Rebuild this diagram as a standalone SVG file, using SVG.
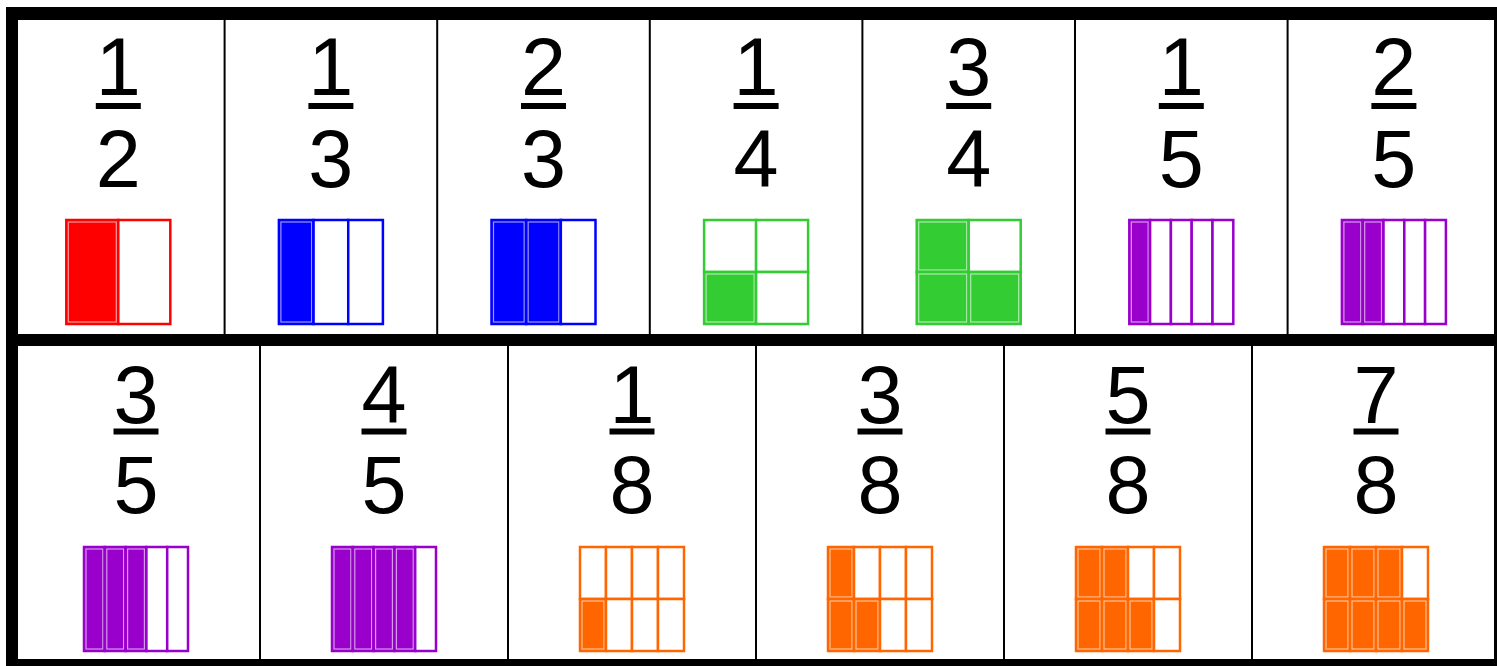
<svg xmlns="http://www.w3.org/2000/svg" width="1497" height="666" viewBox="0 0 1497 666">
<style>
.bg{fill:#fff}
.frame{fill:#000}
.div{stroke:#000;stroke-width:2}
.t{font-family:"Liberation Sans",Arial,Helvetica,sans-serif;font-size:81px;text-anchor:middle;fill:#000}
.ul{fill:#000}
.e{fill:#fff;stroke-width:2.5}
.f{stroke-width:2.5}
.hl{fill:none;stroke:#fff;stroke-opacity:0.6;stroke-width:1.2}
.red{stroke:#ff0000}.red.f{fill:#ff0000}
.blue{stroke:#0000ff}.blue.f{fill:#0000ff}
.green{stroke:#33cc33}.green.f{fill:#33cc33}
.purple{stroke:#9900cc}.purple.f{fill:#9900cc}
.orange{stroke:#ff6600}.orange.f{fill:#ff6600}
</style>
<rect class="bg" x="0" y="0" width="1497" height="666"/>
<g id="grid-lines">
<line class="div" x1="224.6" y1="20" x2="224.6" y2="334"/>
<line class="div" x1="437.2" y1="20" x2="437.2" y2="334"/>
<line class="div" x1="649.8" y1="20" x2="649.8" y2="334"/>
<line class="div" x1="862.4" y1="20" x2="862.4" y2="334"/>
<line class="div" x1="1075" y1="20" x2="1075" y2="334"/>
<line class="div" x1="1287.6" y1="20" x2="1287.6" y2="334"/>
<line class="div" x1="260" y1="346" x2="260" y2="659"/>
<line class="div" x1="508" y1="346" x2="508" y2="659"/>
<line class="div" x1="756" y1="346" x2="756" y2="659"/>
<line class="div" x1="1004" y1="346" x2="1004" y2="659"/>
<line class="div" x1="1252" y1="346" x2="1252" y2="659"/>
<rect class="frame" x="6" y="7" width="1491" height="13"/>
<rect class="frame" x="6" y="7" width="12" height="659"/>
<rect class="frame" x="6" y="334" width="1491" height="12"/>
<rect class="frame" x="6" y="659" width="1491" height="7"/>
<rect class="frame" x="1494" y="7" width="3" height="659"/>
</g>

<g id="f-1-2">
<text class="t" x="118.3" y="95">1</text><rect class="ul" x="95.8" y="103" width="45" height="6"/>
<text class="t" x="118.3" y="187">2</text>
<rect class="red f" x="66.3" y="220" width="52" height="104"/><rect class="hl" x="68.3" y="222" width="48" height="100"/>
<rect class="red e" x="118.3" y="220" width="52" height="104"/>
</g>

<g id="f-1-3">
<text class="t" x="330.9" y="95">1</text><rect class="ul" x="308.4" y="103" width="45" height="6"/>
<text class="t" x="330.9" y="187">3</text>
<rect class="blue f" x="278.9" y="220" width="34.67" height="104"/><rect class="hl" x="280.9" y="222" width="30.67" height="100"/>
<rect class="blue e" x="313.57" y="220" width="34.67" height="104"/>
<rect class="blue e" x="348.23" y="220" width="34.67" height="104"/>
</g>

<g id="f-2-3">
<text class="t" x="543.5" y="95">2</text><rect class="ul" x="521" y="103" width="45" height="6"/>
<text class="t" x="543.5" y="187">3</text>
<rect class="blue f" x="491.5" y="220" width="34.67" height="104"/><rect class="hl" x="493.5" y="222" width="30.67" height="100"/>
<rect class="blue f" x="526.17" y="220" width="34.67" height="104"/><rect class="hl" x="528.17" y="222" width="30.67" height="100"/>
<rect class="blue e" x="560.83" y="220" width="34.67" height="104"/>
</g>

<g id="f-1-4">
<text class="t" x="756.1" y="95">1</text><rect class="ul" x="733.6" y="103" width="45" height="6"/>
<text class="t" x="756.1" y="187">4</text>
<rect class="green e" x="704.1" y="220" width="52" height="52"/>
<rect class="green e" x="756.1" y="220" width="52" height="52"/>
<rect class="green f" x="704.1" y="272" width="52" height="52"/><rect class="hl" x="706.1" y="274" width="48" height="48"/>
<rect class="green e" x="756.1" y="272" width="52" height="52"/>
</g>

<g id="f-3-4">
<text class="t" x="968.7" y="95">3</text><rect class="ul" x="946.2" y="103" width="45" height="6"/>
<text class="t" x="968.7" y="187">4</text>
<rect class="green f" x="916.7" y="220" width="52" height="52"/><rect class="hl" x="918.7" y="222" width="48" height="48"/>
<rect class="green e" x="968.7" y="220" width="52" height="52"/>
<rect class="green f" x="916.7" y="272" width="52" height="52"/><rect class="hl" x="918.7" y="274" width="48" height="48"/>
<rect class="green f" x="968.7" y="272" width="52" height="52"/><rect class="hl" x="970.7" y="274" width="48" height="48"/>
</g>

<g id="f-1-5">
<text class="t" x="1181.3" y="95">1</text><rect class="ul" x="1158.8" y="103" width="45" height="6"/>
<text class="t" x="1181.3" y="187">5</text>
<rect class="purple f" x="1129.3" y="220" width="20.8" height="104"/><rect class="hl" x="1131.3" y="222" width="16.8" height="100"/>
<rect class="purple e" x="1150.1" y="220" width="20.8" height="104"/>
<rect class="purple e" x="1170.9" y="220" width="20.8" height="104"/>
<rect class="purple e" x="1191.7" y="220" width="20.8" height="104"/>
<rect class="purple e" x="1212.5" y="220" width="20.8" height="104"/>
</g>

<g id="f-2-5">
<text class="t" x="1393.9" y="95">2</text><rect class="ul" x="1371.4" y="103" width="45" height="6"/>
<text class="t" x="1393.9" y="187">5</text>
<rect class="purple f" x="1341.9" y="220" width="20.8" height="104"/><rect class="hl" x="1343.9" y="222" width="16.8" height="100"/>
<rect class="purple f" x="1362.7" y="220" width="20.8" height="104"/><rect class="hl" x="1364.7" y="222" width="16.8" height="100"/>
<rect class="purple e" x="1383.5" y="220" width="20.8" height="104"/>
<rect class="purple e" x="1404.3" y="220" width="20.8" height="104"/>
<rect class="purple e" x="1425.1" y="220" width="20.8" height="104"/>
</g>

<g id="f-3-5">
<text class="t" x="136" y="423">3</text><rect class="ul" x="113.5" y="428.5" width="45" height="6"/>
<text class="t" x="136" y="513">5</text>
<rect class="purple f" x="84" y="547" width="20.8" height="104"/><rect class="hl" x="86" y="549" width="16.8" height="100"/>
<rect class="purple f" x="104.8" y="547" width="20.8" height="104"/><rect class="hl" x="106.8" y="549" width="16.8" height="100"/>
<rect class="purple f" x="125.6" y="547" width="20.8" height="104"/><rect class="hl" x="127.6" y="549" width="16.8" height="100"/>
<rect class="purple e" x="146.4" y="547" width="20.8" height="104"/>
<rect class="purple e" x="167.2" y="547" width="20.8" height="104"/>
</g>

<g id="f-4-5">
<text class="t" x="384" y="423">4</text><rect class="ul" x="361.5" y="428.5" width="45" height="6"/>
<text class="t" x="384" y="513">5</text>
<rect class="purple f" x="332" y="547" width="20.8" height="104"/><rect class="hl" x="334" y="549" width="16.8" height="100"/>
<rect class="purple f" x="352.8" y="547" width="20.8" height="104"/><rect class="hl" x="354.8" y="549" width="16.8" height="100"/>
<rect class="purple f" x="373.6" y="547" width="20.8" height="104"/><rect class="hl" x="375.6" y="549" width="16.8" height="100"/>
<rect class="purple f" x="394.4" y="547" width="20.8" height="104"/><rect class="hl" x="396.4" y="549" width="16.8" height="100"/>
<rect class="purple e" x="415.2" y="547" width="20.8" height="104"/>
</g>

<g id="f-1-8">
<text class="t" x="632" y="423">1</text><rect class="ul" x="609.5" y="428.5" width="45" height="6"/>
<text class="t" x="632" y="513">8</text>
<rect class="orange e" x="580" y="547" width="26" height="52"/>
<rect class="orange e" x="606" y="547" width="26" height="52"/>
<rect class="orange e" x="632" y="547" width="26" height="52"/>
<rect class="orange e" x="658" y="547" width="26" height="52"/>
<rect class="orange f" x="580" y="599" width="26" height="52"/><rect class="hl" x="582" y="601" width="22" height="48"/>
<rect class="orange e" x="606" y="599" width="26" height="52"/>
<rect class="orange e" x="632" y="599" width="26" height="52"/>
<rect class="orange e" x="658" y="599" width="26" height="52"/>
</g>

<g id="f-3-8">
<text class="t" x="880" y="423">3</text><rect class="ul" x="857.5" y="428.5" width="45" height="6"/>
<text class="t" x="880" y="513">8</text>
<rect class="orange f" x="828" y="547" width="26" height="52"/><rect class="hl" x="830" y="549" width="22" height="48"/>
<rect class="orange e" x="854" y="547" width="26" height="52"/>
<rect class="orange e" x="880" y="547" width="26" height="52"/>
<rect class="orange e" x="906" y="547" width="26" height="52"/>
<rect class="orange f" x="828" y="599" width="26" height="52"/><rect class="hl" x="830" y="601" width="22" height="48"/>
<rect class="orange f" x="854" y="599" width="26" height="52"/><rect class="hl" x="856" y="601" width="22" height="48"/>
<rect class="orange e" x="880" y="599" width="26" height="52"/>
<rect class="orange e" x="906" y="599" width="26" height="52"/>
</g>

<g id="f-5-8">
<text class="t" x="1128" y="423">5</text><rect class="ul" x="1105.5" y="428.5" width="45" height="6"/>
<text class="t" x="1128" y="513">8</text>
<rect class="orange f" x="1076" y="547" width="26" height="52"/><rect class="hl" x="1078" y="549" width="22" height="48"/>
<rect class="orange f" x="1102" y="547" width="26" height="52"/><rect class="hl" x="1104" y="549" width="22" height="48"/>
<rect class="orange e" x="1128" y="547" width="26" height="52"/>
<rect class="orange e" x="1154" y="547" width="26" height="52"/>
<rect class="orange f" x="1076" y="599" width="26" height="52"/><rect class="hl" x="1078" y="601" width="22" height="48"/>
<rect class="orange f" x="1102" y="599" width="26" height="52"/><rect class="hl" x="1104" y="601" width="22" height="48"/>
<rect class="orange f" x="1128" y="599" width="26" height="52"/><rect class="hl" x="1130" y="601" width="22" height="48"/>
<rect class="orange e" x="1154" y="599" width="26" height="52"/>
</g>

<g id="f-7-8">
<text class="t" x="1376" y="423">7</text><rect class="ul" x="1353.5" y="428.5" width="45" height="6"/>
<text class="t" x="1376" y="513">8</text>
<rect class="orange f" x="1324" y="547" width="26" height="52"/><rect class="hl" x="1326" y="549" width="22" height="48"/>
<rect class="orange f" x="1350" y="547" width="26" height="52"/><rect class="hl" x="1352" y="549" width="22" height="48"/>
<rect class="orange f" x="1376" y="547" width="26" height="52"/><rect class="hl" x="1378" y="549" width="22" height="48"/>
<rect class="orange e" x="1402" y="547" width="26" height="52"/>
<rect class="orange f" x="1324" y="599" width="26" height="52"/><rect class="hl" x="1326" y="601" width="22" height="48"/>
<rect class="orange f" x="1350" y="599" width="26" height="52"/><rect class="hl" x="1352" y="601" width="22" height="48"/>
<rect class="orange f" x="1376" y="599" width="26" height="52"/><rect class="hl" x="1378" y="601" width="22" height="48"/>
<rect class="orange f" x="1402" y="599" width="26" height="52"/><rect class="hl" x="1404" y="601" width="22" height="48"/>
</g>
</svg>
